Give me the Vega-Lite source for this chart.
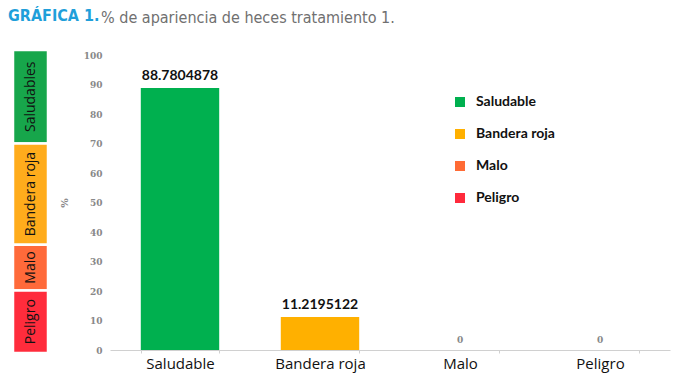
{
  "$schema": "https://vega.github.io/schema/vega-lite/v6.json",
  "padding": {"left": 8, "top": 7, "right": 5, "bottom": 5},
  "background": "white",
  "spacing": 62,
  "bounds": "flush",
  "resolve": {"scale": {"color": "independent"}, "legend": {"color": "independent"}},
  "config": {"view": {"stroke": null}},
  "datasets": {
    "zonas": [
      {"zona": "Saludables", "desde": 70, "hasta": 101.7},
      {"zona": "Bandera roja", "desde": 35.7, "hasta": 70},
      {"zona": "Malo", "desde": 20.2, "hasta": 35.7},
      {"zona": "Peligro", "desde": -1, "hasta": 20.2}
    ],
    "heces": [
      {"categoria": "Saludable", "porcentaje": 88.7804878},
      {"categoria": "Bandera roja", "porcentaje": 11.2195122},
      {"categoria": "Malo", "porcentaje": 0},
      {"categoria": "Peligro", "porcentaje": 0}
    ]
  },
  "hconcat": [
    {
      "width": 35,
      "height": 295,
      "title": {"text": "GRÁFICA 1.", "anchor": "start", "frame": "group", "dx": -5, "font": "DejaVu Sans Condensed", "fontSize": 16, "fontWeight": "bold", "color": "#1f9fda", "offset": 25},
      "data": {"name": "zonas"},
      "transform": [{"calculate": "(datum.desde + datum.hasta) / 2", "as": "centro"}],
      "layer": [
        {
          "mark": {"type": "rect", "stroke": "white", "strokeWidth": 2.5},
          "encoding": {
            "y": {"field": "desde", "type": "quantitative", "scale": {"domain": [0, 100], "nice": false}, "axis": null},
            "y2": {"field": "hasta"},
            "color": {"field": "zona", "type": "nominal", "scale": {"domain": ["Saludables", "Bandera roja", "Malo", "Peligro"], "range": ["#17a64b", "#ffac1c", "#ff6a3a", "#ff2c3c"]}, "legend": null}
          }
        },
        {
          "mark": {"type": "text", "angle": 270, "align": "center", "baseline": "middle", "font": "Open Sans", "fontSize": 14, "color": "#111"},
          "encoding": {
            "y": {"field": "centro", "type": "quantitative", "scale": {"domain": [0, 100], "nice": false}, "axis": null},
            "text": {"field": "zona", "type": "nominal"}
          }
        }
      ]
    },
    {
      "width": 560,
      "height": 295,
      "title": {"text": "% de apariencia de heces tratamiento 1.", "anchor": "start", "frame": "group", "dx": -9, "font": "DejaVu Sans Condensed", "fontSize": 16, "fontWeight": "normal", "color": "#707070", "offset": 25},
      "data": {"name": "heces"},
      "encoding": {
        "x": {
          "field": "categoria", "type": "nominal", "sort": null,
          "scale": {"paddingInner": 0.44, "paddingOuter": 0.22},
          "axis": {"title": null, "labelAngle": 0, "labelFont": "Open Sans", "labelFontSize": 15, "labelColor": "#111", "domainColor": "#d0d0d0", "tickColor": "#d0d0d0", "tickSize": 3, "labelPadding": 3, "tickBand": "extent"}
        },
        "y": {
          "field": "porcentaje", "type": "quantitative",
          "scale": {"domain": [0, 100], "nice": false},
          "axis": {"title": "%", "titleFont": "DejaVu Serif", "titleFontSize": 10, "titleFontWeight": "bold", "titleColor": "#888", "titlePadding": 14, "values": [0, 10, 20, 30, 40, 50, 60, 70, 80, 90, 100], "labelOverlap": false, "labelFont": "DejaVu Serif", "labelFontSize": 9, "labelFontWeight": "bold", "labelColor": "#888", "ticks": false, "domain": false, "grid": false, "labelPadding": 8}
        }
      },
      "layer": [
        {
          "mark": {"type": "bar"},
          "encoding": {
            "color": {
              "field": "categoria", "type": "nominal",
              "scale": {"domain": ["Saludable", "Bandera roja", "Malo", "Peligro"], "range": ["#00b04f", "#ffb000", "#ff6b35", "#ff2a3c"]},
              "legend": {"title": null, "orient": "none", "legendX": 343, "legendY": 40, "symbolType": "square", "symbolSize": 100, "symbolStrokeWidth": 0, "labelFont": "Lato", "labelFontSize": 14, "labelFontWeight": "bold", "labelColor": "#111", "rowPadding": 18, "labelOffset": 9}
            }
          }
        },
        {
          "transform": [{"filter": "datum.porcentaje > 0"}],
          "mark": {"type": "text", "baseline": "bottom", "dy": -5, "font": "Lato", "fontSize": 14, "fontWeight": "bold", "color": "#111"},
          "encoding": {"text": {"field": "porcentaje", "type": "nominal"}}
        },
        {
          "transform": [{"filter": "datum.porcentaje == 0"}],
          "mark": {"type": "text", "baseline": "bottom", "dy": -5, "font": "DejaVu Serif", "fontSize": 9, "fontWeight": "bold", "color": "#888"},
          "encoding": {"text": {"field": "porcentaje", "type": "nominal"}}
        }
      ]
    }
  ]
}
